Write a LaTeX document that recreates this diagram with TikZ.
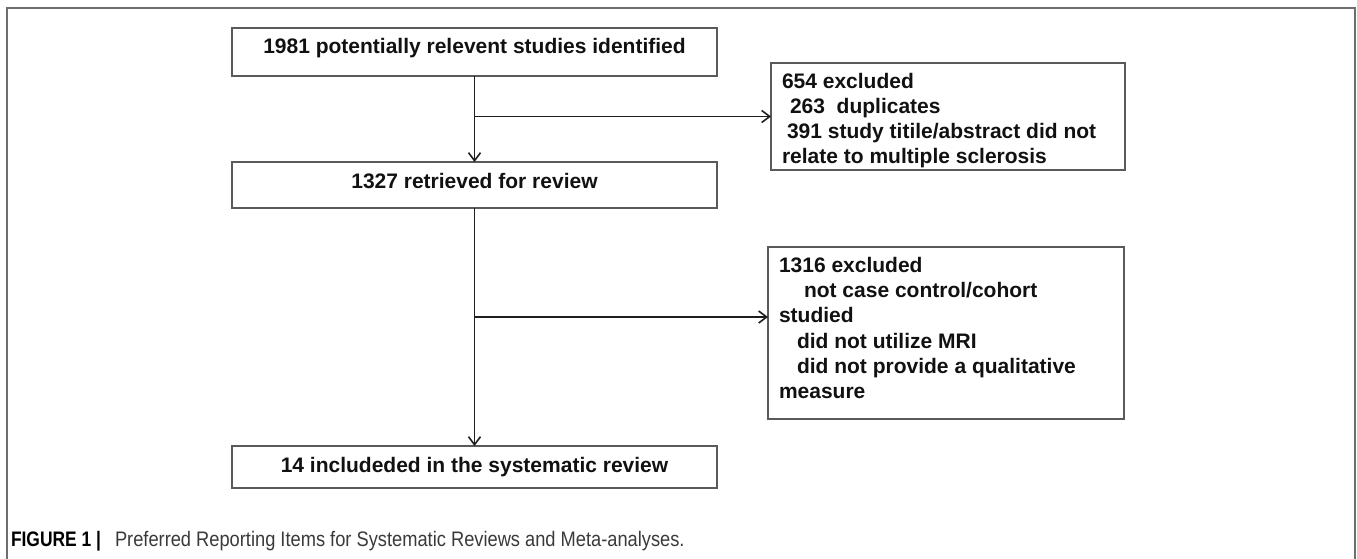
\documentclass[tikz,border=0pt]{standalone}
\usepackage{graphicx}
\usepackage{fontspec}
\setmainfont{Liberation Sans}
\usetikzlibrary{arrows.meta}
\definecolor{boxgray}{HTML}{5A5A5A}
\definecolor{framegray}{HTML}{6E6E6E}
\definecolor{linecol}{HTML}{1E1E1E}
\definecolor{capgray}{HTML}{3A3A3A}
\definecolor{txtcol}{HTML}{111111}
\begin{document}
\begin{tikzpicture}[x=1pt,y=-1pt,
  box/.style={draw=boxgray,line width=1.6pt,inner sep=0pt,outer sep=0pt,rectangle},
  lbl/.style={inner sep=0pt,outer sep=0pt,font=\fontsize{21}{25}\selectfont\bfseries,text=txtcol},
  conn/.style={draw=linecol,line width=1.8pt},
  arr/.style={conn,-{Straight Barb[length=8pt,width=12pt,line width=1.6pt]}},
  captxt/.style={inner sep=0pt,outer sep=0pt,anchor=base west}]
\useasboundingbox (0,0) rectangle (1357,558);
\draw[framegray,line width=1.5pt] (7,560) -- (7,8) -- (1355,8) -- (1355,560);

% boxes
\node[box,minimum width=485pt,minimum height=48pt] (b1) at (474.5,52) {};
\node[box,minimum width=485pt,minimum height=46pt] (b2) at (474.5,185) {};
\node[box,minimum width=485pt,minimum height=42pt] (b3) at (474.5,467) {};
\node[box,minimum width=354pt,minimum height=107pt] (e1) at (948,116.5) {};
\node[box,minimum width=356pt,minimum height=172pt] (e2) at (946,333) {};

% centre texts
\node[lbl,anchor=base] (t1) at (474.5,53) {1981 potentially relevent studies identified};
\node[lbl,anchor=base] (t2) at (474.5,188) {1327 retrieved for review};
\node[lbl,anchor=base] (t3) at (474.5,472) {14 includeded in the systematic review};

% exclusion 1 texts
\node[lbl,anchor=base west] (e1a) at (782,88) {654 excluded};
\node[lbl,anchor=base west] (e1b) at (790,113) {263~ duplicates};
\node[lbl,anchor=base west] (e1c) at (787,138) {391 study titile/abstract did not};
\node[lbl,anchor=base west] (e1d) at (782,163) {relate to multiple sclerosis};

% exclusion 2 texts
\node[lbl,anchor=base west] (e2a) at (779,272) {1316 excluded};
\node[lbl,anchor=base west] (e2b) at (804,297) {not case control/cohort};
\node[lbl,anchor=base west] (e2c) at (779,322) {studied};
\node[lbl,anchor=base west] (e2d) at (797,348) {did not utilize MRI};
\node[lbl,anchor=base west] (e2e) at (797,373) {did not provide a qualitative};
\node[lbl,anchor=base west] (e2f) at (779,398) {measure};

% connectors
\draw[arr] (b1) -- (b2);
\draw[arr] (b2) -- (b3);
\coordinate (j1) at (474.5,116.5);
\coordinate (j2) at (474.5,317);
\draw[arr] (j1) -- (e1);
\draw[arr] (j2) -- (j2 -| e2.west);

% caption
\node[captxt,text=black] (cap1) at (11,546) {\fontsize{21}{25}\selectfont\bfseries\scalebox{0.83}[1]{FIGURE 1 |}};
\node[captxt,text=capgray] (cap2) at (115,546) {\fontsize{21}{25}\selectfont\scalebox{0.87}[1]{Preferred Reporting Items for Systematic Reviews and Meta-analyses.}};
\end{tikzpicture}
\end{document}
